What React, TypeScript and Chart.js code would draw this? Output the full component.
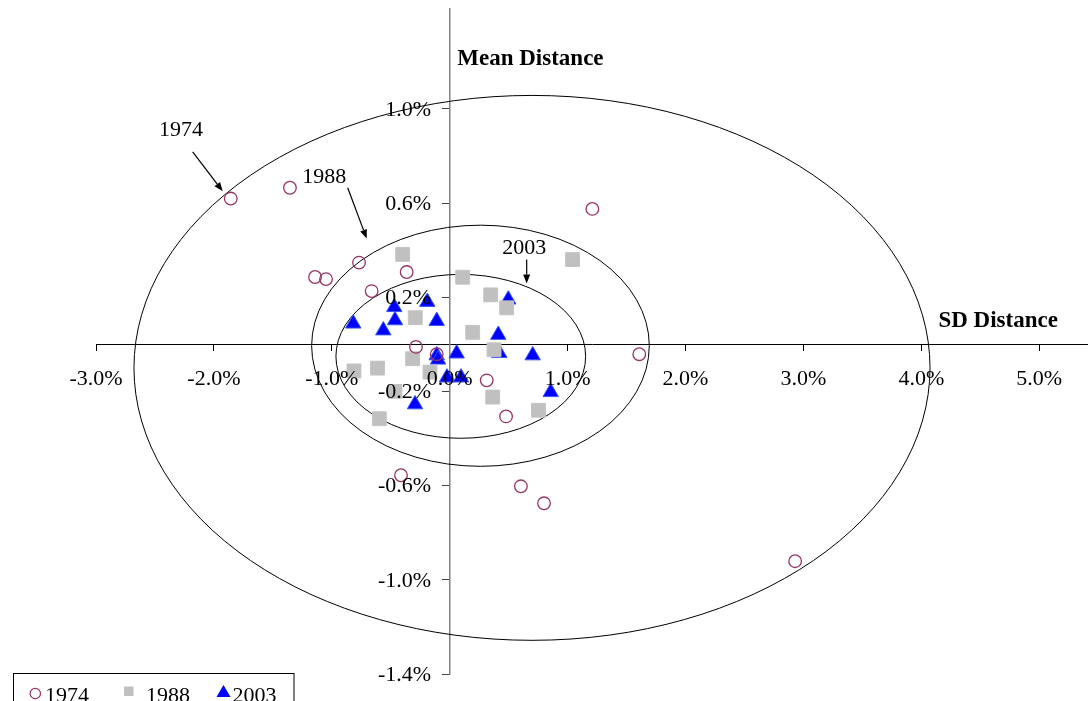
import React, { useEffect, useRef } from 'react';
import { Chart, registerables } from 'chart.js';

Chart.register(...registerables);

// ---------- data (values in percent) ----------
const xTicks = [-3, -2, -1, 0, 1, 2, 3, 4, 5];
const yTicks = [1.0, 0.6, 0.2, -0.2, -0.6, -1.0, -1.4];

const sdDist1974 = [-1.857, -1.355, 1.21, -1.142, -1.049, -0.769, -0.365, -0.662, -0.286, -0.11, 0.314, 0.478, 1.608, -0.413, 0.604, 0.8, 2.93];
const meanDist1974 = [0.619, 0.665, 0.575, 0.286, 0.277, 0.347, 0.307, 0.226, -0.011, -0.042, -0.153, -0.306, -0.042, -0.556, -0.603, -0.675, -0.921];

const sdDist1988 = [-0.399, 0.11, 1.042, 0.348, 0.483, -0.292, 0.195, 0.376, -0.314, -0.812, -0.612, -0.167, -0.464, 0.365, 0.753, -0.597];
const meanDist1988 = [0.382, 0.285, 0.36, 0.21, 0.155, 0.113, 0.051, -0.023, -0.061, -0.113, -0.101, -0.118, -0.2, -0.224, -0.28, -0.316];

const sdDist2003 = [0.497, -0.47, -0.19, -0.464, -0.818, -0.563, -0.11, 0.412, 0.421, 0.059, 0.704, -0.11, -0.099, -0.023, 0.096, 0.857, -0.294];
const meanDist2003 = [0.19, 0.158, 0.18, 0.102, 0.088, 0.059, 0.099, 0.04, -0.037, -0.039, -0.047, -0.047, -0.065, -0.141, -0.141, -0.203, -0.255];

// ellipses (centre and radii, percent)
const ellipseCx = [0.698, 0.261, 0.094];
const ellipseCy = [-0.1, -0.006, -0.051];
const ellipseRx = [3.376, 1.432, 1.059];
const ellipseRy = [1.157, 0.512, 0.348];

// annotations (data coordinates)
const noteLabels = ['1974', '1988', '2003'];
const noteTextX = [-2.279, -1.064, 0.632];
const noteTextY = [0.883, 0.687, 0.382];
const arrowFromX = [-2.18, -0.865, 0.653];
const arrowFromY = [0.817, 0.665, 0.36];
const arrowToX = [-1.925, -0.704, 0.653];
const arrowToY = [0.65, 0.449, 0.258];

const X_MIN = -3;
const X_MAX = 5.414;
const Y_MIN = -1.4;
const Y_MAX = 1.424;

const SERIF = "'Liberation Serif', 'Times New Roman', serif";
const fmtPct = (v: any) => Number(v).toFixed(1) + '%';

const overlayPlugin = {
  id: 'overlay',
  beforeDatasetsDraw(chart: any) {
    const { ctx } = chart;
    const xs = chart.scales.x;
    const ys = chart.scales.y;
    ctx.save();
    ctx.strokeStyle = '#000';
    ctx.lineWidth = 1;
    for (let i = 0; i < ellipseCx.length; i++) {
      const cx = xs.getPixelForValue(ellipseCx[i]);
      const cy = ys.getPixelForValue(ellipseCy[i]);
      const rx = Math.abs(xs.getPixelForValue(ellipseCx[i] + ellipseRx[i]) - cx);
      const ry = Math.abs(ys.getPixelForValue(ellipseCy[i] + ellipseRy[i]) - cy);
      ctx.beginPath();
      ctx.ellipse(cx, cy, rx, ry, 0, 0, Math.PI * 2);
      ctx.stroke();
    }
    ctx.restore();
  },
  afterDraw(chart: any) {
    const { ctx } = chart;
    const xs = chart.scales.x;
    const ys = chart.scales.y;
    ctx.save();
    const axisX = xs.getPixelForValue(0);
    const axisY = ys.getPixelForValue(0);
    ctx.fillStyle = '#000';
    ctx.font = `22px ${SERIF}`;
    // y tick labels (left of the centred axis)
    ctx.textAlign = 'right';
    ctx.textBaseline = 'middle';
    ys.ticks.forEach((t: any) => {
      ctx.fillText(fmtPct(t.value), axisX - 18.5, ys.getPixelForValue(t.value) + 1);
    });
    // x tick labels (below the centred axis)
    ctx.textAlign = 'center';
    xs.ticks.forEach((t: any) => {
      ctx.fillText(fmtPct(t.value), xs.getPixelForValue(t.value), axisY + 34.5);
    });

    // annotations
    ctx.strokeStyle = '#000';
    ctx.textAlign = 'center';
    ctx.textBaseline = 'alphabetic';
    for (let i = 0; i < noteLabels.length; i++) {
      ctx.fillText(noteLabels[i], xs.getPixelForValue(noteTextX[i]), ys.getPixelForValue(noteTextY[i]));
      const x1 = xs.getPixelForValue(arrowFromX[i]);
      const y1 = ys.getPixelForValue(arrowFromY[i]);
      const x2 = xs.getPixelForValue(arrowToX[i]);
      const y2 = ys.getPixelForValue(arrowToY[i]);
      const ang = Math.atan2(y2 - y1, x2 - x1);
      const hl = 9;
      const hw = 3.5;
      const bx = x2 - hl * Math.cos(ang);
      const by = y2 - hl * Math.sin(ang);
      ctx.lineWidth = 1.2;
      ctx.beginPath();
      ctx.moveTo(x1, y1);
      ctx.lineTo(bx, by);
      ctx.stroke();
      ctx.beginPath();
      ctx.moveTo(x2, y2);
      ctx.lineTo(bx + hw * Math.sin(ang), by - hw * Math.cos(ang));
      ctx.lineTo(bx - hw * Math.sin(ang), by + hw * Math.cos(ang));
      ctx.closePath();
      ctx.fill();
    }
    // axis titles
    ctx.font = `bold 23px ${SERIF}`;
    ctx.textAlign = 'left';
    ctx.fillText('Mean Distance', axisX + 7.6, ys.getPixelForValue(1.185));
    ctx.fillText('SD Distance', xs.getPixelForValue(4.145), ys.getPixelForValue(0.0735));

    // legend
    const lx = 13.5;
    const ly = 673.5;
    ctx.fillStyle = '#fff';
    ctx.fillRect(lx, ly, 280.5, 40);
    ctx.strokeStyle = '#000';
    ctx.lineWidth = 1;
    ctx.strokeRect(lx, ly, 280.5, 40);
    const ds = chart.data.datasets;
    ctx.strokeStyle = ds[0].borderColor;
    ctx.lineWidth = 1.2;
    ctx.beginPath();
    ctx.arc(35.3, 693.5, 5.2, 0, Math.PI * 2);
    ctx.stroke();
    ctx.fillStyle = ds[1].backgroundColor;
    ctx.fillRect(124, 686.5, 9.5, 9.5);
    ctx.fillStyle = ds[2].backgroundColor;
    ctx.beginPath();
    ctx.moveTo(223.5, 685);
    ctx.lineTo(230.5, 697);
    ctx.lineTo(216.5, 697);
    ctx.closePath();
    ctx.fill();
    ctx.fillStyle = '#000';
    ctx.font = `22px ${SERIF}`;
    ctx.textAlign = 'left';
    ctx.fillText(ds[0].label, 45, 701.5);
    ctx.fillText(ds[1].label, 146, 701.5);
    ctx.fillText(ds[2].label, 232.5, 701.5);
    ctx.restore();
  },
};

function toPoints(xv: number[], yv: number[]) {
  return xv.map((v, i) => ({ x: v, y: yv[i] }));
}

const zeroX = (s: any) => {
  s.height = 0;
  s.paddingLeft = 0; s.paddingRight = 0; s.paddingTop = 0; s.paddingBottom = 0;
};
const zeroY = (s: any) => {
  s.width = 0;
  s.paddingLeft = 0; s.paddingRight = 0; s.paddingTop = 0; s.paddingBottom = 0;
};

export default function App() {
  const ref = useRef<HTMLCanvasElement | null>(null);
  useEffect(() => {
    if (!ref.current) return;
    const chart = new Chart(ref.current, {
      type: 'scatter',
      data: {
        datasets: [
          {
            label: '1974',
            data: toPoints(sdDist1974, meanDist1974),
            pointStyle: 'circle',
            pointRadius: 6.3,
            borderColor: '#993366',
            backgroundColor: 'rgba(255,255,255,0)',
            borderWidth: 1.3,
          },
          {
            label: '1988',
            data: toPoints(sdDist1988, meanDist1988),
            pointStyle: 'rect',
            pointRadius: 9.8,
            borderColor: '#C4C4C4',
            backgroundColor: '#C0C0C0',
            borderWidth: 1,
          },
          {
            label: '2003',
            data: toPoints(sdDist2003, meanDist2003),
            pointStyle: 'triangle',
            pointRadius: 8.9,
            borderColor: '#3355FF',
            backgroundColor: '#0000FF',
            borderWidth: 1,
          },
        ],
      },
      options: {
        responsive: false,
        animation: false,
        events: [],
        layout: { autoPadding: false, padding: { left: 96, right: 0, top: 9, bottom: 27 } },
        plugins: { legend: { display: false }, tooltip: { enabled: false }, title: { display: false } },
        scales: {
          x: {
            type: 'linear',
            min: X_MIN,
            max: X_MAX,
            position: { y: 0 } as any,
            afterFit: zeroX,
            afterBuildTicks: (s: any) => { s.ticks = xTicks.map((v) => ({ value: v })); },
            ticks: { display: false, includeBounds: false },
            grid: { drawOnChartArea: false, drawTicks: true, tickLength: 6, color: '#000', tickColor: '#000' },
            border: { display: true, color: '#000', width: 1 },
          },
          y: {
            type: 'linear',
            min: Y_MIN,
            max: Y_MAX,
            position: { x: 0 } as any,
            afterFit: zeroY,
            afterBuildTicks: (s: any) => { s.ticks = yTicks.map((v) => ({ value: v })); },
            ticks: { display: false, includeBounds: false },
            grid: { drawOnChartArea: false, drawTicks: true, tickLength: 7, color: '#555', tickColor: '#444' },
            border: { display: true, color: '#808080', width: 1.5 },
          },
        },
      },
      plugins: [overlayPlugin],
    } as any);
    return () => chart.destroy();
  }, []);
  return (
    <div style={{ position: 'absolute', left: 0, top: 0, width: 1088, height: 701, background: '#fff' }}>
      <canvas ref={ref} width={1088} height={701} style={{ display: 'block' }} />
    </div>
  );
}
